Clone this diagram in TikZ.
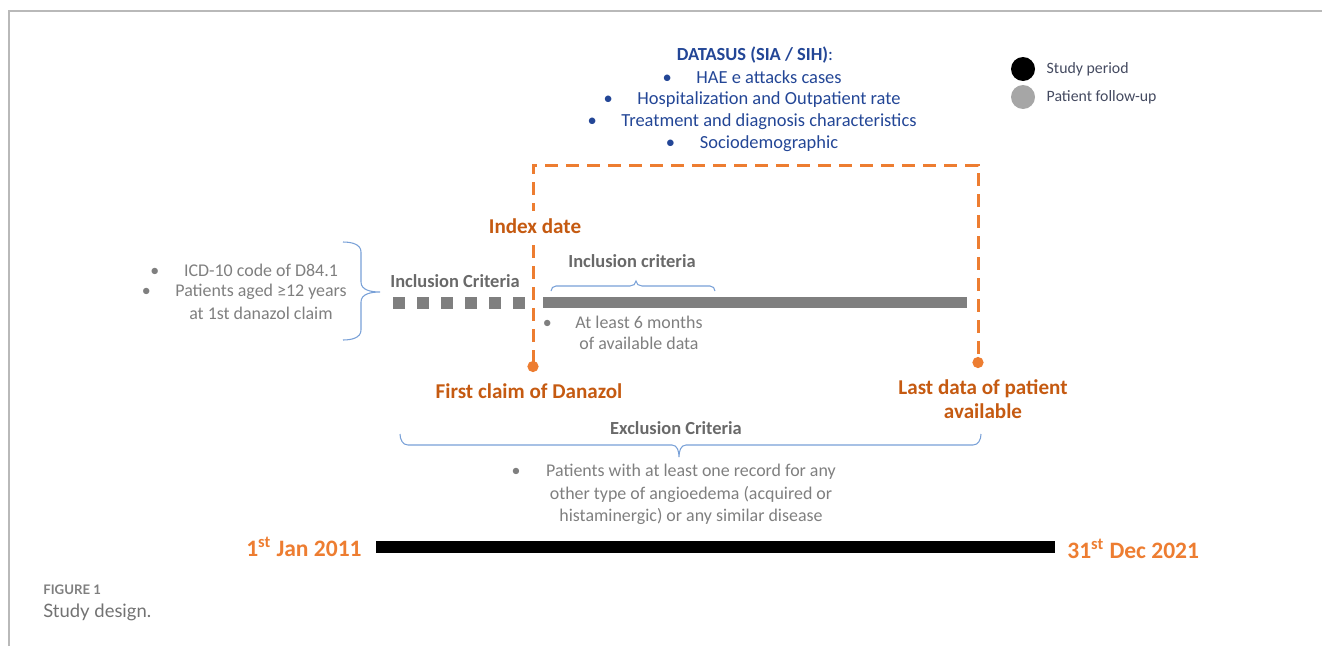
\documentclass[tikz,border=0pt]{standalone}
\usepackage{fontspec}
\setmainfont{Carlito}
\newfontfamily\capfont{Lato}
\usetikzlibrary{positioning,arrows.meta}
\definecolor{hdorange}{RGB}{237,125,49}
\definecolor{lblorange}{RGB}{197,90,17}
\definecolor{dsblue}{RGB}{35,70,150}
\definecolor{txtgray}{RGB}{127,127,127}
\definecolor{critgray}{RGB}{105,105,105}
\definecolor{bracecol}{RGB}{120,160,215}
\definecolor{legtext}{RGB}{68,74,96}
\definecolor{legendgray}{RGB}{166,166,166}
\definecolor{framegray}{RGB}{185,185,185}

\begin{document}
\begin{tikzpicture}[x=0.02cm,y=-0.02cm,
  every node/.style={inner sep=0pt},
  graytxt/.style={text=txtgray,font=\fontsize{10.2}{12}\selectfont},
  bluetxt/.style={text=dsblue,font=\fontsize{10.5}{12}\selectfont},
  critlbl/.style={text=critgray,font=\fontsize{10.5}{12}\selectfont\bfseries},
  datelbl/.style={text=lblorange,font=\fontsize{12}{13.6}\selectfont\bfseries},
  yearlbl/.style={text=hdorange,font=\fontsize{13.4}{16}\selectfont\bfseries},
  legtxt/.style={text=legtext,font=\fontsize{9}{11}\selectfont,right=0.22cm of #1},
  hoop/.style={draw=bracecol,line width=0.6pt},
  followup/.style={draw=hdorange,line width=0.06cm,dash pattern=on 0.26cm off 0.16cm},
  ]
\useasboundingbox (0,0) rectangle (1322,646);
\draw[framegray,line width=0.04cm] (9,646) -- (9,11) -- (1322,11);

% data sources
\node[bluetxt] (ds) at (755,55) {\textbf{DATASUS (SIA / SIH)}:};
\node[bluetxt] (ds1) at (769,77) {HAE e attacks cases};
\node[bluetxt] (ds2) at (769,100) {Hospitalization and Outpatient rate};
\node[bluetxt] (ds3) at (769,122) {Treatment and diagnosis characteristics};
\node[bluetxt] (ds4) at (769,144) {Sociodemographic};
\node[bluetxt,base left=0.48cm of ds1] (ds1b) {\textbullet};
\node[bluetxt,base left=0.48cm of ds2] (ds2b) {\textbullet};
\node[bluetxt,base left=0.48cm of ds3] (ds3b) {\textbullet};
\node[bluetxt,base left=0.48cm of ds4] (ds4b) {\textbullet};

% legend
\node[circle,fill=black,minimum size=0.48cm] (studydot) at (1023,69) {};
\node[circle,fill=legendgray,minimum size=0.48cm] (followdot) at (1023,97) {};
\node[legtxt=studydot] (studytxt) {Study period};
\node[legtxt=followdot] (followtxt) {Patient follow-up};

% follow-up window
\coordinate (firstclaim) at (533,372);
\coordinate (topleft) at (533,165);
\coordinate (topright) at (978,165);
\coordinate (lastdata) at (978,368);
\draw[followup,{Circle[length=0.22cm]}-{Circle[length=0.22cm]}] (firstclaim) -- (topleft) -- (topright) -- (lastdata);
\node[datelbl,fill=white,inner ysep=0.16cm,inner xsep=0.04cm] (index) at (535,226) {Index date};

% inclusion, before index date
\node[critlbl] (inclleft) at (455,281) {Inclusion Criteria};
\fill[txtgray] (393,297) rectangle (405,309);
\fill[txtgray] (417,297) rectangle (429,309);
\fill[txtgray] (441,297) rectangle (453,309);
\fill[txtgray] (465,297) rectangle (477,309);
\fill[txtgray] (489,297) rectangle (501,309);
\fill[txtgray] (513,297) rectangle (525,309);
\node[graytxt] (icd) at (261,270) {ICD-10 code of D84.1};
\node[graytxt] (aged) at (261,292) {Patients aged ≥12 years};
\node[graytxt] (claim) at (261,313) {at 1st danazol claim};
\node[graytxt,base left=0.48cm of icd] (icdb) {\textbullet};
\node[graytxt,base left=0.48cm of aged] (agedb) {\textbullet};
\draw[hoop] (343,242) to[out=0,in=90] (361,252) -- (361,282) to[out=270,in=180] (380,292)
  to[out=180,in=90] (361,302) -- (361,330) to[out=270,in=0] (343,340);

% inclusion, after index date
\fill[txtgray] (543,297) rectangle (967,308);
\node[critlbl] (inclright) at (632,261) {Inclusion criteria};
\draw[hoop] (551,291) to[out=90,in=180] (556,286) -- (630,286) to[out=0,in=270] (636,281)
  to[out=270,in=180] (642,286) -- (710,286) to[out=0,in=90] (715,291);
\node[graytxt] (six1) at (639,322) {At least 6 months};
\node[graytxt] (six2) at (639,343) {of available data};
\node[graytxt,base left=0.46cm of six1] (six1b) {\textbullet};

\node[datelbl] (firstlbl) at (529,391) {First claim of Danazol};
\node[datelbl,align=center] (lastlbl) at (983,399) {Last data of patient\\available};

% exclusion
\node[critlbl] (exlbl) at (676,428) {Exclusion Criteria};
\draw[hoop] (400,434) to[out=270,in=180] (408,445) -- (672,445) to[out=0,in=90] (679,457)
  to[out=90,in=180] (686,445) -- (973,445) to[out=0,in=270] (981,434);
\node[graytxt] (ex1) at (691,472) {Patients with at least one record for any};
\node[graytxt] (ex2) at (691,494) {other type of angioedema (acquired or};
\node[graytxt] (ex3) at (691,516) {histaminergic) or any similar disease};
\node[graytxt,base left=0.5cm of ex1] (ex1b) {\textbullet};

% study period
\fill[black] (376,541) rectangle (1055,553);
\node[yearlbl,anchor=east] (startdate) at (362,547) {1\textsuperscript{st} Jan 2011};
\node[yearlbl,anchor=west] (enddate) at (1067,549) {31\textsuperscript{st} Dec 2021};

\node[anchor=west,text=txtgray,font=\capfont\fontsize{7.5}{9}\selectfont\bfseries] (figno) at (43,590) {FIGURE 1};
\node[anchor=west,text=txtgray!90!black,font=\capfont\fontsize{10.5}{12}\selectfont] (figcap) at (43,612) {Study design.};
\end{tikzpicture}
\end{document}
